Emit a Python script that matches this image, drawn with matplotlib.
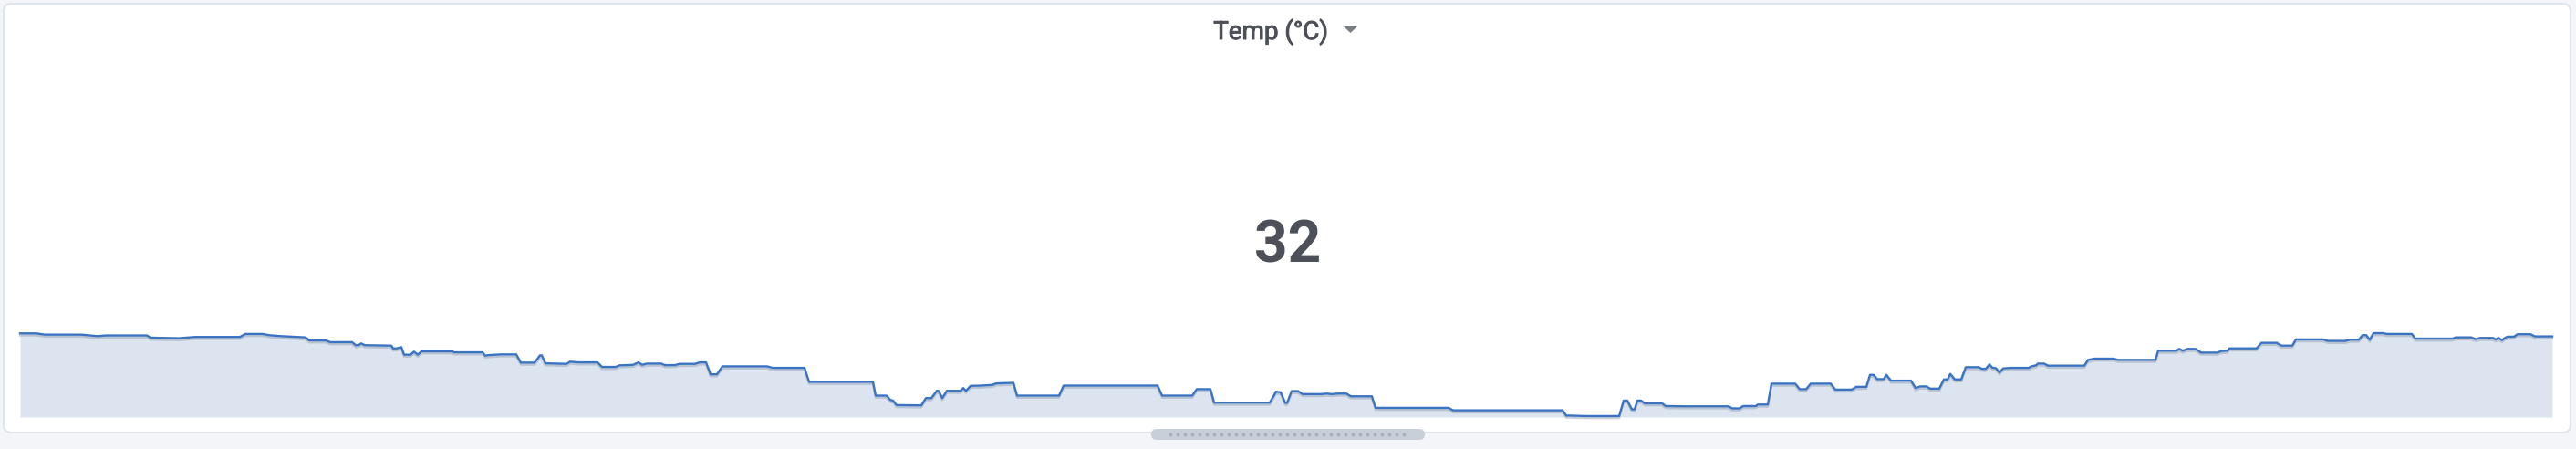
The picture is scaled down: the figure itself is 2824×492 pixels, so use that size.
import matplotlib
matplotlib.use('Agg')
import matplotlib.pyplot as plt
import matplotlib.patheffects as pe
from matplotlib.patches import FancyBboxPatch, Polygon
import numpy as np

# sparkline samples: minutes since start, temperature (°C)
minutes = [0, 18, 27, 67, 85, 94, 139, 143, 174, 192, 241, 247, 266, 273, 286, 299, 313, 317,
           335, 340, 364, 368, 371, 374, 378, 407, 409, 413, 418, 421, 428, 432, 436, 440, 474,
           476, 507, 510, 514, 527, 544, 549, 564, 570, 572, 576, 599, 603, 612, 633, 638, 653,
           657, 672, 678, 682, 687, 703, 707, 718, 723, 740, 745, 752, 757, 764, 770, 819, 825,
           860, 865, 935, 938, 950, 954, 957, 961, 988, 993, 999, 1005, 1007, 1011, 1016, 1031,
           1034, 1037, 1042, 1053, 1066, 1070, 1089, 1093, 1139, 1144, 1247, 1252, 1285, 1290,
           1305, 1309, 1370, 1377, 1382, 1387, 1389, 1394, 1401, 1406, 1427, 1432, 1438, 1445,
           1454, 1459, 1482, 1486, 1566, 1571, 1691, 1695, 1717, 1753, 1758, 1762, 1767, 1770,
           1773, 1777, 1781, 1800, 1804, 1824, 1873, 1877, 1885, 1889, 1903, 1905, 1916, 1920,
           1946, 1951, 1958, 1963, 1985, 1990, 2008, 2013, 2024, 2028, 2032, 2036, 2043, 2046,
           2051, 2073, 2078, 2083, 2090, 2094, 2104, 2109, 2113, 2116, 2121, 2128, 2133, 2147,
           2151, 2155, 2159, 2162, 2166, 2170, 2174, 2182, 2202, 2205, 2210, 2212, 2219, 2223,
           2263, 2267, 2274, 2295, 2300, 2341, 2344, 2364, 2367, 2371, 2376, 2385, 2391, 2409,
           2413, 2420, 2422, 2452, 2457, 2474, 2479, 2491, 2495, 2525, 2530, 2549, 2554, 2564,
           2568, 2572, 2576, 2580, 2590, 2595, 2622, 2626, 2667, 2670, 2687, 2692, 2697, 2711,
           2714, 2717, 2721, 2724, 2727, 2734, 2738, 2752, 2757, 2776]
temps = [32.22, 32.22, 32.13, 32.13, 32.02, 32.07, 32.07, 31.91, 31.87, 31.96, 31.96, 32.18,
         32.18, 32.09, 32.02, 31.98, 31.93, 31.71, 31.71, 31.58, 31.58, 31.36, 31.36, 31.49,
         31.36, 31.33, 31.13, 31.13, 31.22, 30.67, 30.67, 30.89, 30.67, 30.91, 30.91, 30.84,
         30.84, 30.60, 30.64, 30.69, 30.69, 30.09, 30.09, 30.62, 30.62, 30.04, 30.00, 30.16,
         30.11, 30.11, 29.78, 29.78, 29.89, 29.93, 30.11, 29.93, 30.02, 30.02, 29.91, 29.91,
         30.00, 30.00, 30.11, 30.11, 29.24, 29.24, 29.82, 29.82, 29.71, 29.71, 28.69, 28.69,
         27.69, 27.69, 27.38, 27.33, 27.00, 26.98, 27.51, 27.51, 28.04, 28.04, 27.51, 28.04,
         28.04, 28.24, 28.04, 28.40, 28.42, 28.47, 28.58, 28.62, 27.69, 27.69, 28.42, 28.42,
         27.69, 27.69, 28.16, 28.16, 27.18, 27.18, 27.98, 27.93, 27.16, 27.16, 28.02, 28.02,
         27.80, 27.80, 27.84, 27.80, 27.84, 27.84, 27.64, 27.64, 26.80, 26.80, 26.62, 26.62,
         26.24, 26.20, 26.20, 27.33, 27.33, 26.69, 26.69, 27.33, 27.33, 27.13, 27.13, 26.93,
         26.91, 26.91, 26.76, 26.76, 26.93, 26.93, 27.04, 27.04, 28.56, 28.56, 28.16, 28.16,
         28.56, 28.56, 28.13, 28.13, 28.33, 28.33, 29.20, 29.20, 28.89, 28.89, 29.20, 28.78,
         28.78, 28.24, 28.36, 28.36, 28.20, 28.20, 28.87, 28.87, 29.27, 28.87, 28.87, 29.76,
         29.76, 29.64, 29.64, 29.96, 29.73, 29.69, 29.38, 29.67, 29.71, 29.71, 29.82, 29.89,
         30.02, 30.02, 29.87, 29.87, 30.29, 30.38, 30.38, 30.29, 30.29, 30.96, 30.96, 31.09,
         30.96, 31.09, 31.09, 30.82, 30.82, 30.93, 30.96, 31.13, 31.13, 31.53, 31.53, 31.33,
         31.33, 31.78, 31.78, 31.67, 31.67, 31.76, 31.76, 32.09, 32.09, 31.76, 32.24, 32.24,
         32.18, 32.18, 31.84, 31.84, 31.93, 31.93, 31.80, 31.89, 31.89, 31.78, 31.89, 31.73,
         31.89, 31.98, 31.98, 32.16, 32.16, 32.00, 32.00]
title = 'Temp (°C)'
current_value = f'{temps[-1]:.0f}'

W, H = 2824, 492
BG = '#f4f5f8'
LINE = '#3a73c2'
FILL = '#dce4ef'
TEXT = '#4d5058'

plt.rcParams['font.family'] = ['Roboto', 'DejaVu Sans']

fig = plt.figure(figsize=(W / 100, H / 100), dpi=100, facecolor=BG)


def fx(x):
    return x / W


def fy(y):
    return 1 - y / H


# panel card (kept behind the sparkline axes)
panel = FancyBboxPatch((fx(4), fy(474)), fx(2818 - 4), (474 - 4) / H,
                       boxstyle='round,pad=0,rounding_size=0.003',
                       transform=fig.transFigure, facecolor='white',
                       edgecolor='#dfe3ea', linewidth=1.5, mutation_aspect=W / H, zorder=-5)
fig.patches.append(panel)

# title + dropdown caret
fig.text(fx(1393), fy(43), title, ha='center', va='baseline', fontsize=20,
         color=TEXT, path_effects=[pe.withStroke(linewidth=0.7, foreground=TEXT)])
caret = Polygon([[fx(1473), fy(29)], [fx(1488), fy(29)], [fx(1480.5), fy(36)]],
                closed=True, transform=fig.transFigure, facecolor='#7b7e85', edgecolor='none')
fig.patches.append(caret)

# big stat value
fig.text(fx(1412), fy(288), current_value, ha='center', va='baseline', fontsize=46,
         fontweight='bold', color=TEXT)

# sparkline
ax = fig.add_axes([fx(22), fy(457), 2776 / W, 92 / H], zorder=2)
ax.set_axis_off()
ax.patch.set_alpha(0)
y_bottom = min(temps) - 0.07
ax.fill_between(minutes, temps, y_bottom, color=FILL, linewidth=0)
ax.plot(minutes, temps, color=LINE, linewidth=1.7, solid_joinstyle='round', clip_on=False,
        path_effects=[pe.SimpleLineShadow(offset=(0, -1.6), shadow_color='#8d9bb0', alpha=0.45),
                      pe.Normal()])
ax.set_xlim(minutes[0], minutes[-1])
ax.set_ylim(y_bottom, max(temps))

# horizontal scroll handle
sb = FancyBboxPatch((fx(1262), fy(482)), fx(300), 12 / H,
                    boxstyle='round,pad=0,rounding_size=0.0021',
                    transform=fig.transFigure, facecolor='#c9cfd8', edgecolor='none',
                    mutation_aspect=W / H, zorder=3)
fig.patches.append(sb)
dots_x = np.arange(1283, 1541, 8)
fig.add_artist(plt.Line2D(fx(dots_x), [fy(476)] * len(dots_x), transform=fig.transFigure,
                          linestyle='none', marker='o', markersize=2, color='#abb2bd', zorder=4))

fig.savefig('out.png', dpi=100, facecolor=BG)
